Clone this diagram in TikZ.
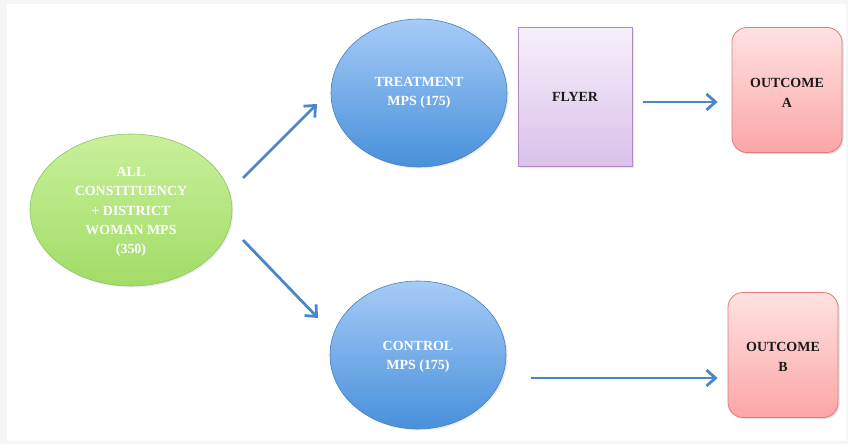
\documentclass[tikz,border=0pt]{standalone}
\usepackage{fontspec}
\setmainfont{Liberation Serif}
\usetikzlibrary{shapes.geometric,arrows.meta,calc,shadows}
\definecolor{arrowblue}{HTML}{4A86C8}
\definecolor{gtop}{HTML}{C8F09A}
\definecolor{gbot}{HTML}{A2DC66}
\definecolor{gline}{HTML}{90C262}
\definecolor{btop}{HTML}{A6CBF7}
\definecolor{bbot}{HTML}{4890DB}
\definecolor{bline}{HTML}{4A7FC0}
\definecolor{ptop}{HTML}{F6F0FA}
\definecolor{pbot}{HTML}{D9C1EA}
\definecolor{pline}{HTML}{B08BC6}
\definecolor{rtop}{HTML}{FFE2E2}
\definecolor{rbot}{HTML}{FBA6A6}
\definecolor{rline}{HTML}{E07C7C}
\definecolor{txtdark}{HTML}{1A1A1A}
\definecolor{framegray}{HTML}{F6F6F6}
\tikzset{
  lbl/.style={font=\fontsize{14}{19.5}\selectfont\bfseries, align=center},
  grn/.style={ellipse, lbl, text=white, draw=gline, line width=0.6bp,
    top color=gtop, bottom color=gbot, minimum width=202bp, minimum height=152bp, inner sep=0pt,
    drop shadow={opacity=0.15, shadow xshift=1.5bp, shadow yshift=-1.5bp}},
  blu/.style={ellipse, lbl, text=white, draw=bline, line width=0.6bp,
    top color=btop, bottom color=bbot, minimum width=176bp, minimum height=148bp, inner sep=0pt,
    drop shadow={opacity=0.15, shadow xshift=1.5bp, shadow yshift=-1.5bp}},
  flyerbox/.style={rectangle, lbl, text=txtdark, draw=pline, line width=0.8bp,
    top color=ptop, bottom color=pbot, minimum width=114bp, minimum height=139bp, inner sep=0pt,
    drop shadow={opacity=0.2, shadow xshift=1.5bp, shadow yshift=-1.5bp}},
  outbox/.style={rectangle, rounded corners=15bp, lbl, text=txtdark, draw=rline, line width=0.8bp,
    top color=rtop, bottom color=rbot, minimum width=110bp, minimum height=125bp, inner sep=0pt,
    drop shadow={opacity=0.25, shadow xshift=1.5bp, shadow yshift=-1.5bp}},
  arr/.style={draw=arrowblue, line width=2.8bp, -{Straight Barb[length=9bp,width=16bp]}}
}
\begin{document}
\begin{tikzpicture}[x=1bp,y=-1bp]
\fill[framegray] (0,0) rectangle (848,444);
\fill[white] (7,4) rectangle (846,441);
\useasboundingbox (0,0) rectangle (848,444);

\node[grn] (all) at (131,210) {};
\node[lbl, text=white] (alltxt) at (131,212) {ALL\\CONSTITUENCY\\+ DISTRICT\\WOMAN MPS\\(350)};
\node[blu] (treat) at (419,93) {TREATMENT\\MPS (175)};
\node[blu] (ctrl) at (418,355) {};
\node[lbl, text=white] (ctrltxt) at (418,357) {CONTROL\\MPS (175)};
\node[flyerbox] (flyer) at (575,97) {FLYER};
\node[outbox] (outa) at (787,90) {};
\node[lbl, text=txtdark] (outatxt) at (787,93) {OUTCOME\\A};
\node[outbox] (outb) at (783,355) {};
\node[lbl, text=txtdark] (outbtxt) at (783,357) {OUTCOME\\B};

\draw[arr] ($(all.center)+(112,-32)$) -- ($(treat.center)+(-102,11)$);
\draw[arr] ($(all.center)+(112,30)$) -- ($(ctrl.center)+(-100,-37)$);
\draw[arr] ($(flyer.east)+(11,5)$) -- ($(outa.west)+(-14,12)$);
\draw[arr] ($(ctrl.east)+(25,23)$) -- ($(outb.west)+(-10,23)$);
\end{tikzpicture}
\end{document}
